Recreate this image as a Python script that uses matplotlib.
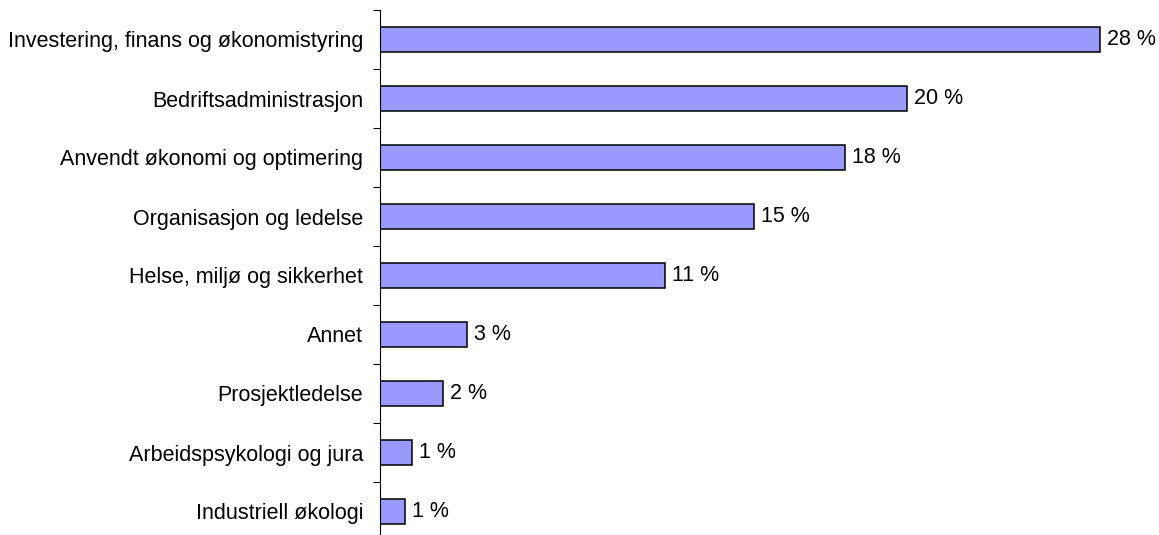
import matplotlib
matplotlib.use("Agg")
import matplotlib.pyplot as plt
import numpy as np

# Data (labels are rounded values)
categories = [
    "Investering, finans og økonomistyring",
    "Bedriftsadministrasjon",
    "Anvendt økonomi og optimering",
    "Organisasjon og ledelse",
    "Helse, miljø og sikkerhet",
    "Annet",
    "Prosjektledelse",
    "Arbeidspsykologi og jura",
    "Industriell økologi",
]
values = [28.0, 20.5, 18.1, 14.55, 11.1, 3.4, 2.45, 1.23, 0.98]
labels = ["28 %", "20 %", "18 %", "15 %", "11 %", "3 %", "2 %", "1 %", "1 %"]

plt.rcParams["font.family"] = ["Liberation Sans", "DejaVu Sans"]
fs = 15.5

fig = plt.figure(figsize=(11.59, 5.35), dpi=100)
# axis runs from y=10 px down past the bottom edge of the image
ax = fig.add_axes([380 / 1159, -6 / 535, 779 / 1159, 531 / 535])

y = np.arange(len(categories))
ax.barh(y, values, height=0.42, color="#9999FF", edgecolor="black", linewidth=1.1)

for yi, v, lab in zip(y, values, labels):
    ax.annotate(lab, (v, yi), xytext=(5, 0), textcoords="offset points",
                va="center", ha="left", fontsize=fs)

ax.set_ylim(len(categories) - 0.5, -0.5)
ax.set_xlim(0, 779 / 25.7)

ax.set_yticks(y)
ax.set_yticklabels(categories, fontsize=fs)
ax.set_yticks(np.arange(len(categories) + 1) - 0.5, minor=True)
ax.tick_params(axis="y", which="major", length=0, pad=12)
ax.tick_params(axis="y", which="minor", length=5, width=0.8, direction="out")

ax.xaxis.set_visible(False)
for side in ["top", "right", "bottom"]:
    ax.spines[side].set_visible(False)
ax.spines["left"].set_linewidth(0.8)

fig.savefig("out.png", dpi=100)
